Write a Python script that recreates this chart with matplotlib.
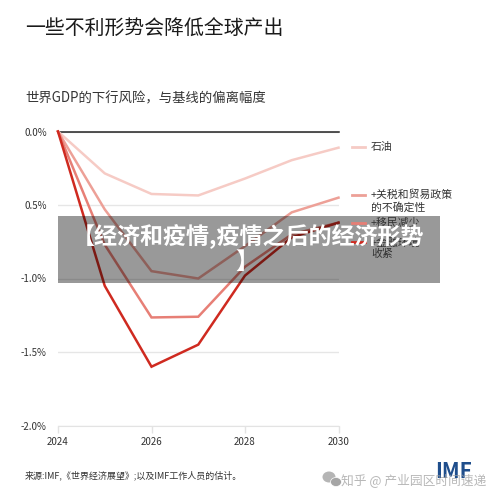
import matplotlib
matplotlib.use("Agg")
import matplotlib.pyplot as plt
from matplotlib.patches import Rectangle, Ellipse

plt.rcParams["font.family"] = ["Noto Sans CJK SC", "DejaVu Sans"]

# Data
years = [2024, 2025, 2026, 2027, 2028, 2029, 2030]
oil = [0, -0.285, -0.425, -0.435, -0.32, -0.195, -0.11]
tariffs = [0, -0.53, -0.95, -1.0, -0.78, -0.55, -0.45]
migration = [0, -0.77, -1.265, -1.26, -0.92, -0.7, -0.62]
financial = [0, -1.05, -1.6, -1.45, -0.98, -0.72, -0.62]

y_ticks = [0, -0.5, -1.0, -1.5, -2.0]
y_labels = ["0.0%", "0.5%", "-1.0%", "-1.5%", "-2.0%"]
x_ticks = [2024, 2026, 2028, 2030]

series = [oil, tariffs, migration, financial]
colors = ["#f6cbc5", "#eda097", "#e77f76", "#cf2a20"]

legend_labels = ["石油", "+关税和贸易政策\n的不确定性", "+移民减少", "+金融环境\n收紧"]
legend_y = [147, 195, 223, 242]
label_y = [147, 201, 223, 248]


def fx(px):
    return px / 500


def fy(py):
    return 1 - py / 500


fig = plt.figure(figsize=(5, 5), dpi=100)
ax = fig.add_axes([fx(58), fy(425.5), fx(338.5 - 58), (425.5 - 131.5) / 500])

for vals, c in zip(series, colors):
    ax.plot(years, vals, color=c, linewidth=1.8, solid_joinstyle="miter", clip_on=False, zorder=3)

ax.set_xlim(2024, 2030)
ax.set_ylim(-2, 0)
ax.set_xticks(x_ticks)
ax.set_yticks(y_ticks)
ax.set_yticklabels(y_labels)
ax.tick_params(axis="y", length=0, labelsize=7, labelcolor="#333333", pad=8)
ax.tick_params(axis="x", length=5, width=1, color="#e3e3e3", labelsize=7, labelcolor="#333333", pad=3)
ax.grid(True, axis="y", color="#e6e6e6", linewidth=1)
for name in ["left", "right", "top"]:
    ax.spines[name].set_visible(False)
ax.spines["bottom"].set_color("#e3e3e3")
ax.axhline(0, color="#222222", linewidth=1.1, zorder=2, clip_on=False)

# Headings
fig.text(fx(25), fy(29), "一些不利形势会降低全球产出", fontsize=14.3, color="#1a1a1a", va="center")
fig.text(fx(25), fy(98), "世界GDP的下行风险\uff0c与基线的偏离幅度", fontsize=9.6, color="#333333", va="center")

# Legend drawn by hand, next to the chart
for ly, ty, lab, c in zip(legend_y, label_y, legend_labels, colors):
    fig.add_artist(plt.Line2D([fx(352), fx(365)], [fy(ly), fy(ly)], color=c, linewidth=2))
    fig.text(fx(371), fy(ty), lab, fontsize=7.8, color="#333333", va="center", linespacing=1.15)

# Source, logo and watermark
fig.text(fx(25), fy(475), "来源:IMF,《世界经济展望》;以及IMF工作人员的估计。", fontsize=6.5, color="#333333", va="center")
fig.text(fx(435), fy(471), "IMF", fontsize=15, fontweight="bold", color="#1f4e8c", va="center")
fig.add_artist(Ellipse((fx(329), fy(477)), 13 / 500, 11 / 500, transform=fig.transFigure, facecolor="#b5b5b5", edgecolor="none"))
fig.add_artist(Ellipse((fx(336), fy(482)), 11 / 500, 9 / 500, transform=fig.transFigure, facecolor="#a5a5a5", edgecolor="white", linewidth=0.5))
fig.text(fx(341), fy(480), "知乎 @ 产业园区时间速递", fontsize=9.2, color="#a0a0a0", alpha=0.75, va="center")

# Gray banner over the chart
fig.add_artist(Rectangle((fx(58), fy(283)), fx(440 - 58), (283 - 216) / 500,
                         transform=fig.transFigure, facecolor="black", alpha=0.4, edgecolor="none"))
fig.text(fx(248), fy(236), "【经济和疫情,疫情之后的经济形势", fontsize=16.6, fontweight="bold", color="white", va="center", ha="center")
fig.text(fx(247), fy(262), "】", fontsize=16.6, fontweight="bold", color="white", va="center", ha="center")

fig.savefig("out.png", dpi=100)
